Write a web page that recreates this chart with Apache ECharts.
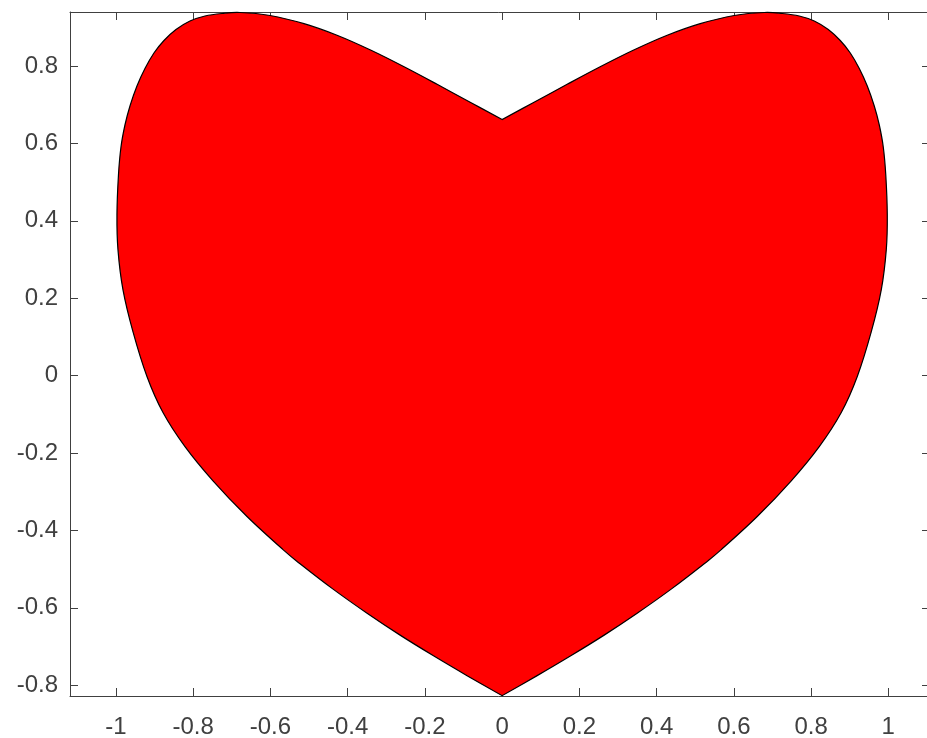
<!DOCTYPE html>
<html>
<head>
<meta charset="utf-8">
<script src="https://cdn.jsdelivr.net/npm/echarts@6/dist/echarts.min.js"></script>
<style>
html,body{margin:0;padding:0;background:#fff;}
#chart{width:927px;height:738px;}
</style>
</head>
<body>
<div id="chart"></div>
<script>
// Heart outline: left half from the top notch down to the tip,
// then the right half from the tip back up towards the notch.
const heartX = [
  0, -0.0803, -0.1684, -0.2539, -0.3394, -0.4275, -0.5130, -0.6010, -0.6788, -0.7254,
  -0.7694, -0.8083, -0.8446, -0.8756, -0.9016, -0.9249, -0.9456, -0.9637, -0.9767, -0.9870,
  -0.9935, -0.9974, -0.9948, -0.9819, -0.9560, -0.9197, -0.8782, -0.8212, -0.7487, -0.6606,
  -0.5674, -0.5233, -0.4378, -0.3497, -0.2642, -0.1788, -0.0907,
  0,
  0.0907, 0.1788, 0.2642, 0.3497, 0.4378, 0.5233, 0.5674, 0.6606, 0.7487, 0.8212,
  0.8782, 0.9197, 0.9560, 0.9819, 0.9948, 0.9974, 0.9935, 0.9870, 0.9767, 0.9637,
  0.9456, 0.9249, 0.9016, 0.8756, 0.8446, 0.8083, 0.7694, 0.7254, 0.6788, 0.6010,
  0.5130, 0.4275, 0.3394, 0.2539, 0.1684, 0.0803
];
const heartY = [
  0.6617, 0.7051, 0.7527, 0.7979, 0.8405, 0.8793, 0.9093, 0.9305, 0.9382, 0.9356,
  0.9292, 0.9163, 0.8943, 0.8659, 0.8336, 0.7935, 0.7483, 0.6966, 0.6475, 0.5906,
  0.5182, 0.4148, 0.3254, 0.2220, 0.1135, -0.0023, -0.0954, -0.1835, -0.2719, -0.3642,
  -0.4497, -0.4862, -0.5518, -0.6141, -0.6707, -0.7234, -0.7754,
  -0.8271,
  -0.7754, -0.7234, -0.6707, -0.6141, -0.5518, -0.4862, -0.4497, -0.3642, -0.2719, -0.1835,
  -0.0954, -0.0023, 0.1135, 0.2220, 0.3254, 0.4148, 0.5182, 0.5906, 0.6475, 0.6966,
  0.7483, 0.7935, 0.8336, 0.8659, 0.8943, 0.9163, 0.9292, 0.9356, 0.9382, 0.9305,
  0.9093, 0.8793, 0.8405, 0.7979, 0.7527, 0.7051
];
const tipIndex = 37; // index of the bottom tip in the outline arrays
const xTicks = [-1, -0.8, -0.6, -0.4, -0.2, 0, 0.2, 0.4, 0.6, 0.8, 1];
const yTicks = [-0.8, -0.6, -0.4, -0.2, 0, 0.2, 0.4, 0.6, 0.8];
const xRange = [-1.119, 1.108];
const yRange = [-0.828, 0.9395];

const axisColor = '#404040';
const labelStyle = {
  color: '#404040',
  fontFamily: 'Liberation Sans, Arial, sans-serif',
  fontSize: 24
};

function makeX(pos, showLabel) {
  return {
    type: 'value', position: pos, min: xRange[0], max: xRange[1],
    axisLine: { show: true, onZero: false, lineStyle: { color: axisColor, width: 1 } },
    axisTick: { show: true, inside: true, length: 8, customValues: xTicks, lineStyle: { color: axisColor } },
    axisLabel: Object.assign({ show: showLabel, margin: 19, customValues: xTicks }, labelStyle),
    splitLine: { show: false }
  };
}
function makeY(pos, showLabel) {
  return {
    type: 'value', position: pos, min: yRange[0], max: yRange[1],
    axisLine: { show: true, onZero: false, lineStyle: { color: axisColor, width: 1 } },
    axisTick: { show: true, inside: true, length: 8, customValues: yTicks, lineStyle: { color: axisColor } },
    axisLabel: Object.assign({ show: showLabel, margin: 12, customValues: yTicks }, labelStyle),
    splitLine: { show: false }
  };
}

// Smooth (Catmull-Rom) path through pixel points, open at both ends (cusps kept sharp).
function smoothSegment(p, first) {
  let d = first ? 'M' + p[0][0] + ' ' + p[0][1] : '';
  for (let i = 0; i < p.length - 1; i++) {
    const p0 = p[Math.max(i - 1, 0)], p1 = p[i], p2 = p[i + 1], p3 = p[Math.min(i + 2, p.length - 1)];
    const c1 = [p1[0] + (p2[0] - p0[0]) / 6, p1[1] + (p2[1] - p0[1]) / 6];
    const c2 = [p2[0] - (p3[0] - p1[0]) / 6, p2[1] - (p3[1] - p1[1]) / 6];
    d += ' C' + c1[0] + ' ' + c1[1] + ' ' + c2[0] + ' ' + c2[1] + ' ' + p2[0] + ' ' + p2[1];
  }
  return d;
}

const chart = echarts.init(document.getElementById('chart'), null, { renderer: 'canvas' });
chart.setOption({
  animation: false,
  backgroundColor: '#ffffff',
  grid: { left: 70, top: 12, width: 860, height: 684, outerBoundsMode: 'none', containLabel: false },
  xAxis: [makeX('bottom', true), makeX('top', false)],
  yAxis: [makeY('left', true), makeY('right', false)],
  series: [{
    type: 'custom',
    coordinateSystem: 'cartesian2d',
    xAxisIndex: 0, yAxisIndex: 0,
    clip: false,
    data: [[0, 0]],
    renderItem: function (params, api) {
      const pts = heartX.map(function (x, i) { return api.coord([x, heartY[i]]); });
      const left = pts.slice(0, tipIndex + 1);
      const right = pts.slice(tipIndex).concat([pts[0]]);
      const d = smoothSegment(left, true) + smoothSegment(right, false) + ' Z';
      return {
        type: 'path',
        shape: { pathData: d },
        style: { fill: '#ff0000', stroke: '#000000', lineWidth: 1.2, lineJoin: 'miter' }
      };
    }
  }]
});
</script>
</body>
</html>
